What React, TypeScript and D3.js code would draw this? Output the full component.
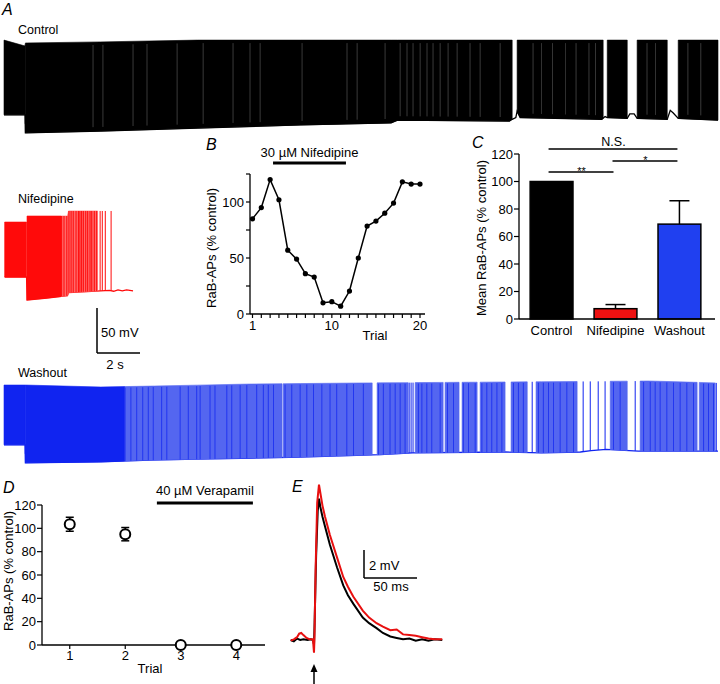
import React from 'react';
import * as d3 from 'd3';

// ---------- A: voltage traces (t in s, V in mV) ----------
const ctlPeak = [[0, 31], [0.985, 24.4], [0.995, 27.8], [4.5, 29], [9, 31], [33.2, 31]];
const ctlBase = [[0, -52], [0.985, -52], [0.995, -72], [4.5, -70], [9, -66.7], [13.8, -63.3], [18, -61], [18.3, -58],
  [23.5, -59], [23.63, -57], [23.8, -55], [23.86, -48], [24, -55], [27.8, -57], [27.95, -54], [28.05, -55],
  [28.98, -56], [29.1, -51], [29.3, -51], [29.44, -56], [30.84, -57], [30.98, -47], [31.12, -50], [31.35, -56], [33.2, -58]];
const ctlBursts = [[0, 0.99], [0.99, 23.63], [23.86, 27.86], [28.05, 28.98], [29.44, 30.84], [31.35, 33.2]];
const ctlLight = [4.14, 4.6, 6.0, 6.65, 8.05, 9.26, 10.65, 11.44, 11.91, 13.86, 15.95, 16.42, 17.72, 18.42, 18.74,
  19.02, 19.35, 19.67, 19.95, 20.28, 20.65, 21.07, 21.67, 22.14, 23.07, 24.6, 25.0, 25.5, 26.1, 26.6, 27.2, 27.5,
  29.9, 30.3, 31.8, 32.4];

const nifPeak = [[0.03, 14.4], [1.05, 14.4], [1.07, 21.1], [2.95, 21.1], [3.0, 26.7], [6.0, 26.7]];
const nifBase = [[0.03, -46.7], [1.05, -46.7], [1.07, -72.2], [2, -70], [2.95, -67.5], [3.0, -64], [4.5, -62],
  [4.9, -61.5], [5.1, -62.5], [5.3, -61], [5.5, -62], [5.7, -61], [6.0, -62]];
const nifDense = [[0.03, 1.05], [1.07, 2.65]];
const nifSparse = [[2.65, 4.35]];
const nifSpikes = [2.68, 2.79, 2.92, 3.02, 3.12, 3.22, 3.35, 3.46, 3.53, 3.61, 3.69, 3.8, 3.89, 4.0, 4.08, 4.2,
  4.31, 4.47, 4.57, 4.71, 4.98];

const washPeak = [[0, 14.4], [0.985, 14.4], [0.995, 14.4], [4.5, 12.2], [7, 13.3], [11.4, 15.5], [16.6, 16.7],
  [30, 18.9], [33.2, 16.7]];
const washBase = [[0, -52], [0.985, -52], [0.995, -72], [4.5, -71], [6.8, -69], [9, -68], [13.8, -65.6], [17.5, -63],
  [19, -61], [23.3, -60], [25, -61], [26.8, -60], [27.3, -58.5], [28, -57], [29.5, -59], [33.2, -59]];
const washDense = [[0, 0.99], [0.99, 5.6]];
const washSparse = [[5.6, 12.93], [12.98, 17.12], [17.35, 18.79], [19.12, 20.42], [20.51, 21.16], [21.3, 22.0],
  [22.14, 23.3], [23.58, 24.33], [24.74, 26.65], [28.19, 28.98], [29.58, 32.23], [32.33, 33.07]];
const washSpikes = [18.84, 18.93, 19.02, 24.56, 26.93, 27.26, 27.63, 27.95, 29.35, 33.12];
const washDark = [5.63, 5.9, 6.17, 6.45, 6.71, 6.94, 7.33, 7.57, 8.19, 8.57, 8.96, 9.12, 9.58, 9.81, 10.36, 10.59,
  10.98, 11.29, 11.75, 12.06, 12.29, 12.53, 13.07, 13.38, 13.77, 14.08, 14.39, 14.78, 15.16, 15.47, 15.94, 16.25,
  16.71, 17.41, 17.64, 17.95, 18.19, 18.42, 18.65, 19.27, 19.43, 19.66, 19.89, 20.28, 20.62, 20.9, 21.36, 21.6,
  21.91, 22.22, 22.45, 22.68, 22.92, 23.15, 23.69, 23.92, 24.15, 24.85, 25.08, 25.32, 25.55, 25.86, 26.17, 26.48,
  28.34, 28.65, 29.74, 30.05, 30.28, 30.51, 30.82, 31.13, 31.44, 31.75, 32.06, 32.53, 32.76, 32.99];

// ---------- B ----------
const bTrials = [1, 2, 3, 4, 5, 6, 7, 8, 9, 10, 11, 12, 13, 14, 15, 16, 17, 18, 19, 20];
const bValues = [85, 95, 120, 102, 57, 49, 36, 33, 10, 11, 7, 20.5, 50, 78.5, 83, 90, 99, 118, 116, 116];
const bYTicks = [0, 25, 50, 75, 100, 125];
const bYLabels = [0, 50, 100];
const bXLabels = [1, 10, 20];
const bDrugSpan = [3.33, 11.6];

// ---------- C ----------
const cCats = ['Control', 'Nifedipine', 'Washout'];
const cMeans = [100, 7.5, 69];
const cErr = [0, 3, 17];
const cColors = ['#000000', '#ee1111', '#2040f0'];
const cYTicks = [0, 20, 40, 60, 80, 100, 120];
const cSig = [
  { from: 'Control', to: 'Washout', label: 'N.S.' },
  { from: 'Nifedipine', to: 'Washout', label: '*' },
  { from: 'Control', to: 'Nifedipine', label: '**' },
];

// ---------- D ----------
const dTrials = [1, 2, 3, 4];
const dMeans = [103.5, 95, 0, 0];
const dErr = [6, 5.7, 0, 0];
const dYTicks = [0, 20, 40, 60, 80, 100, 120];
const dDrugSpan = [2.57, 4.3];

// ---------- E (t in ms, mV) ----------
const eControl = [[-22, 0], [-19, -0.1], [-16, 0.1], [-13, 0], [-10, 0.05], [-6, 0], [-3, 0.05], [-1, 0], [0, -0.3],
  [0.5, 1], [2, 6], [3.5, 9.2], [4.7, 10.1], [6, 9.5], [8, 8.8], [10.4, 8.1], [15, 6.8], [21.7, 5.2], [27.6, 3.9],
  [32, 3.2], [37, 2.6], [46, 1.6], [52, 1.2], [59, 0.85], [65, 0.5], [72, 0.25], [78, 0.15], [84, 0.05], [90, 0.1],
  [96, -0.05], [102, 0.05], [108, -0.05], [114, 0.05], [121, 0]];
const eNif = [[-22, -0.05], [-19, 0.05], [-16, 0.2], [-14, 0.45], [-12, 0.5], [-10, 0.35], [-7, 0.15], [-4, 0.05],
  [-1, 0.05], [0, -0.9], [0.4, 0], [1.5, 5], [3, 9.8], [4.7, 11.1], [6, 10.5], [8, 9.6], [10.4, 8.8], [15, 7.5],
  [21.7, 5.9], [27.6, 4.5], [32, 3.8], [37, 3.1], [46, 2.1], [52, 1.6], [59, 1.2], [65, 0.95], [72, 0.7], [78, 0.75],
  [84, 0.4], [90, 0.35], [96, 0.3], [102, 0.2], [108, 0.1], [114, 0.05], [121, 0.05]];

const FONT = "'Liberation Sans', Arial, Helvetica, sans-serif";

// piecewise-linear lookup through a d3 scale
const lookup = (arr: number[][]) => d3.scaleLinear().domain(arr.map(d => d[0])).range(arr.map(d => d[1])).clamp(true);

const tx = d3.scaleLinear().domain([0, 33.2]).range([4, 718]);
const vScale = (yAtMinus80: number) => d3.scaleLinear().domain([-80, 40]).range([yAtMinus80, yAtMinus80 - 108]);

interface TraceProps {
  peak: number[][];
  base: number[][];
  dense: number[][];
  sparse?: number[][];
  spikes?: number[];
  dark?: number[];
  light?: number[];
  y: d3.ScaleLinear<number, number>;
  color: string;
  sparseColor: string;
}

function Trace({ peak, base, dense, sparse = [], spikes = [], dark = [], light = [], y, color, sparseColor }: TraceProps) {
  const pk = lookup(peak);
  const bs = lookup(base);
  const area = d3.area<number>().x(t => tx(t)).y0(t => y(bs(t))).y1(t => y(pk(t)));
  const samples = (b: number[]) => {
    const inner = [...peak, ...base].map(d => d[0]).filter(t => t > b[0] && t < b[1]);
    return [b[0], ...inner, b[1]].sort((a, c) => a - c);
  };
  const baseLine = d3.line<number[]>().x(d => tx(d[0])).y(d => y(d[1]));
  return (
    <g>
      <path d={baseLine(base) ?? ''} fill="none" stroke={color} strokeWidth={1.3} />
      {sparse.map((b, i) => (
        <path key={'s' + i} d={area(samples(b)) ?? ''} fill={sparseColor} stroke={sparseColor} strokeWidth={0.6} />
      ))}
      {dense.map((b, i) => (
        <path key={'d' + i} d={area(samples(b)) ?? ''} fill={color} stroke={color} strokeWidth={0.6} />
      ))}
      {dark.map((t, i) => (
        <line key={'x' + i} x1={tx(t)} x2={tx(t)} y1={y(bs(t))} y2={y(pk(t)) + 1} stroke={color} strokeWidth={0.9} opacity={0.8} />
      ))}
      {spikes.map((t, i) => (
        <line key={'k' + i} x1={tx(t)} x2={tx(t)} y1={y(bs(t))} y2={y(pk(t))} stroke={color} strokeWidth={1} />
      ))}
      {light.map((t, i) => (
        <line key={'l' + i} x1={tx(t)} x2={tx(t)} y1={y(pk(t)) + 3} y2={y(bs(t)) - 4} stroke="#7a7a7a" strokeWidth={0.6} opacity={0.8} />
      ))}
    </g>
  );
}

function PanelB() {
  const x = d3.scaleLinear().domain([1, 20]).range([252.5, 420]);
  const y = d3.scaleLinear().domain([0, 125]).range([314, 174]);
  const line = d3.line<number>().x((_, i) => x(bTrials[i])).y(d => y(d));
  return (
    <g>
      <text x={206} y={150} fontSize={16} fontStyle="italic">B</text>
      <text x={(x(bDrugSpan[0]) + x(bDrugSpan[1])) / 2} y={157} fontSize={13} textAnchor="middle">30 µM Nifedipine</text>
      <line x1={x(bDrugSpan[0])} x2={x(bDrugSpan[1])} y1={163} y2={163} stroke="#000" strokeWidth={3} />
      <line x1={250} x2={250} y1={y(125)} y2={y(0)} stroke="#000" strokeWidth={1.3} />
      <line x1={250} x2={425} y1={y(0)} y2={y(0)} stroke="#000" strokeWidth={1.3} />
      {bYTicks.map(v => <line key={v} x1={246} x2={250} y1={y(v)} y2={y(v)} stroke="#000" strokeWidth={1.2} />)}
      {bYLabels.map(v => <text key={v} x={244} y={y(v) + 4.5} fontSize={13} textAnchor="end">{v}</text>)}
      {bTrials.map(t => <line key={t} x1={x(t)} x2={x(t)} y1={y(0)} y2={y(0) + 4} stroke="#000" strokeWidth={1.2} />)}
      {bXLabels.map(t => <text key={t} x={x(t)} y={330} fontSize={13} textAnchor="middle">{t}</text>)}
      <text x={375} y={340} fontSize={13} textAnchor="middle">Trial</text>
      <text transform="translate(216,248) rotate(-90)" fontSize={13} textAnchor="middle">RaB-APs (% control)</text>
      <path d={line(bValues) ?? ''} fill="none" stroke="#000" strokeWidth={1.5} />
      {bValues.map((v, i) => <circle key={i} cx={x(bTrials[i])} cy={y(v)} r={2.6} fill="#000" />)}
    </g>
  );
}

function PanelC() {
  const x = d3.scaleBand<string>().domain(cCats).range([518, 713]).paddingInner(0.33).paddingOuter(0.19);
  const y = d3.scaleLinear().domain([0, 120]).range([319, 154]);
  const mid = (c: string) => (x(c) ?? 0) + x.bandwidth() / 2;
  const sigY = [149, 161, 172];
  return (
    <g>
      <text x={472} y={148} fontSize={16} fontStyle="italic">C</text>
      {cCats.map((c, i) => (
        <g key={c}>
          {cErr[i] > 0 && (
            <g stroke="#000" strokeWidth={1.5}>
              <line x1={mid(c)} x2={mid(c)} y1={y(cMeans[i])} y2={y(cMeans[i] + cErr[i])} />
              <line x1={mid(c) - 10} x2={mid(c) + 10} y1={y(cMeans[i] + cErr[i])} y2={y(cMeans[i] + cErr[i])} />
            </g>
          )}
          <rect x={x(c)} y={y(cMeans[i])} width={x.bandwidth()} height={y(0) - y(cMeans[i])}
            fill={cColors[i]} stroke="#000" strokeWidth={1.5} />
          <text x={mid(c)} y={335} fontSize={13} textAnchor="middle">{c}</text>
        </g>
      ))}
      <line x1={519} x2={519} y1={y(120)} y2={y(0)} stroke="#000" strokeWidth={1.3} />
      <line x1={519} x2={715} y1={y(0)} y2={y(0)} stroke="#000" strokeWidth={1.3} />
      {cYTicks.map(v => (
        <g key={v}>
          <line x1={514} x2={519} y1={y(v)} y2={y(v)} stroke="#000" strokeWidth={1.2} />
          <text x={513} y={y(v) + 4.5} fontSize={13} textAnchor="end">{v}</text>
        </g>
      ))}
      <text transform="translate(486,238) rotate(-90)" fontSize={13} textAnchor="middle">Mean RaB-APs (% control)</text>
      {cSig.map((s, i) => (
        <g key={s.label}>
          <line x1={mid(s.from) - 3} x2={mid(s.to) - 2} y1={sigY[i]} y2={sigY[i]} stroke="#000" strokeWidth={1.3} />
          <text x={(mid(s.from) + mid(s.to)) / 2 - 2} y={sigY[i] - (s.label === 'N.S.' ? 3 : -3)} fontSize={s.label === 'N.S.' ? 12.5 : 11}
            textAnchor="middle">{s.label}</text>
        </g>
      ))}
    </g>
  );
}

function PanelD() {
  const x = d3.scaleLinear().domain([0.5, 4.5]).range([42, 264]);
  const y = d3.scaleLinear().domain([0, 120]).range([645, 505]);
  return (
    <g>
      <text x={3} y={493} fontSize={16} fontStyle="italic">D</text>
      <text x={(x(dDrugSpan[0]) + x(dDrugSpan[1])) / 2} y={495} fontSize={13} textAnchor="middle">40 µM Verapamil</text>
      <line x1={x(dDrugSpan[0])} x2={x(dDrugSpan[1])} y1={503} y2={503} stroke="#000" strokeWidth={3} />
      <line x1={42} x2={42} y1={y(120)} y2={y(0)} stroke="#000" strokeWidth={1.3} />
      <line x1={42} x2={265} y1={y(0)} y2={y(0)} stroke="#000" strokeWidth={1.3} />
      {dYTicks.map(v => (
        <g key={v}>
          <line x1={37} x2={42} y1={y(v)} y2={y(v)} stroke="#000" strokeWidth={1.2} />
          <text x={36} y={y(v) + 4.5} fontSize={13} textAnchor="end">{v}</text>
        </g>
      ))}
      {dTrials.map(t => (
        <g key={t}>
          <line x1={x(t)} x2={x(t)} y1={y(0)} y2={y(0) + 4} stroke="#000" strokeWidth={1.2} />
          <text x={x(t)} y={660} fontSize={13} textAnchor="middle">{t}</text>
        </g>
      ))}
      <text x={150} y={673} fontSize={13} textAnchor="middle">Trial</text>
      <text transform="translate(13,571) rotate(-90)" fontSize={13} textAnchor="middle">RaB-APs (% control)</text>
      {dTrials.map((t, i) => (
        <g key={t} stroke="#000" strokeWidth={1.5}>
          {dErr[i] > 0 && (
            <>
              <line x1={x(t)} x2={x(t)} y1={y(dMeans[i] - dErr[i])} y2={y(dMeans[i] + dErr[i])} />
              <line x1={x(t) - 4} x2={x(t) + 4} y1={y(dMeans[i] + dErr[i])} y2={y(dMeans[i] + dErr[i])} />
              <line x1={x(t) - 4} x2={x(t) + 4} y1={y(dMeans[i] - dErr[i])} y2={y(dMeans[i] - dErr[i])} />
            </>
          )}
          <circle cx={x(t)} cy={y(dMeans[i])} r={5} fill="#fff" strokeWidth={2} />
        </g>
      ))}
    </g>
  );
}

function PanelE() {
  const x = d3.scaleLinear().domain([0, 50]).range([314, 367]);
  const y = d3.scaleLinear().domain([0, 2]).range([640, 612]);
  const line = d3.line<number[]>().x(d => x(d[0])).y(d => y(d[1]));
  return (
    <g>
      <text x={292} y={492} fontSize={16} fontStyle="italic">E</text>
      <path d={line(eControl) ?? ''} fill="none" stroke="#000" strokeWidth={2} />
      <path d={line(eNif) ?? ''} fill="none" stroke="#e81010" strokeWidth={2} />
      <line x1={364} x2={364} y1={550} y2={578} stroke="#000" strokeWidth={1.5} />
      <line x1={364} x2={417} y1={578} y2={578} stroke="#000" strokeWidth={1.5} />
      <text x={369} y={570} fontSize={13}>2 mV</text>
      <text x={391} y={591} fontSize={13} textAnchor="middle">50 ms</text>
      <line x1={x(0)} x2={x(0)} y1={670} y2={684} stroke="#000" strokeWidth={1.5} />
      <path d={`M${x(0)},664 L${x(0) - 3.5},672 L${x(0) + 3.5},672 Z`} fill="#000" />
    </g>
  );
}

export default function App() {
  return (
    <svg width={720} height={684} style={{ position: 'absolute', left: 0, top: 0, background: '#fff' }}
      fontFamily={FONT}>
      <rect width={720} height={684} fill="#fff" />
      <text x={2} y={15} fontSize={16} fontStyle="italic">A</text>
      <text x={18} y={34} fontSize={12.5}>Control</text>
      <Trace peak={ctlPeak} base={ctlBase} dense={ctlBursts} light={ctlLight} y={vScale(140)} color="#000" sparseColor="#000" />

      <text x={18} y={203} fontSize={12.5}>Nifedipine</text>
      <Trace peak={nifPeak} base={nifBase} dense={nifDense} sparse={nifSparse} spikes={nifSpikes} y={vScale(307)}
        color="#ff0a0a" sparseColor="#ff6a6a" />
      <line x1={97} x2={97} y1={308} y2={353} stroke="#000" strokeWidth={1.5} />
      <line x1={97} x2={140} y1={353} y2={353} stroke="#000" strokeWidth={1.5} />
      <text x={101} y={337} fontSize={13}>50 mV</text>
      <text x={115} y={369} fontSize={13} textAnchor="middle">2 s</text>

      <text x={18} y={377} fontSize={12.5}>Washout</text>
      <Trace peak={washPeak} base={washBase} dense={washDense} sparse={washSparse} spikes={washSpikes} dark={washDark}
        y={vScale(470)} color="#1024f0" sparseColor="#5466f0" />

      <PanelB />
      <PanelC />
      <PanelD />
      <PanelE />
    </svg>
  );
}
